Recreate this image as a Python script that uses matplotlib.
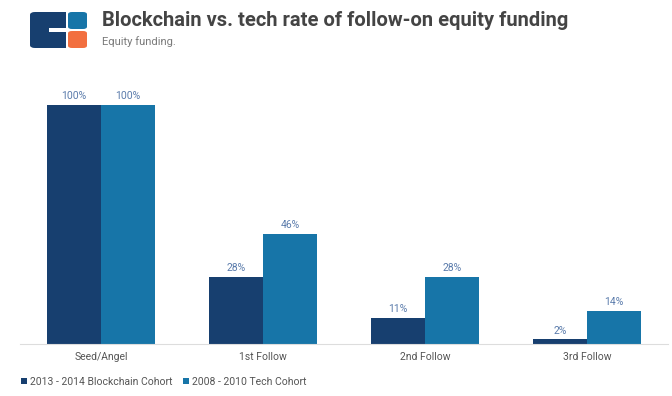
import matplotlib
matplotlib.use("Agg")
import matplotlib.pyplot as plt
from matplotlib.patches import FancyBboxPatch, Rectangle
from matplotlib import font_manager
import numpy as np

categories = ["Seed/Angel", "1st Follow", "2nd Follow", "3rd Follow"]
blockchain = [100, 28, 11, 2]
tech = [100, 46, 28, 14]
series_names = ["2013 - 2014 Blockchain Cohort", "2008 - 2010 Tech Cohort"]

dark = "#173f6f"
light = "#1775a8"
W, H = 672, 396

fig = plt.figure(figsize=(6.72, 3.96), dpi=100)
ax = fig.add_axes([20 / W, 1 - 344 / H, 648 / W, 239 / H])

x = np.arange(len(categories))
bw = 0.335
b1 = ax.bar(x - bw / 2, blockchain, bw, color=dark, label=series_names[0])
b2 = ax.bar(x + bw / 2, tech, bw, color=light, label=series_names[1])
for bars in (b1, b2):
    for r in bars:
        ax.text(r.get_x() + r.get_width() / 2, r.get_height() + 1.5, f"{r.get_height():.0f}%",
                ha="center", va="bottom", fontsize=7.5, color="#5a7bab",
                family="Roboto", clip_on=False)

ax.set_xlim(-0.5, 3.5)
ax.set_ylim(0, 100)
ax.set_yticks([])
ax.set_xticks(x)
ax.set_xticklabels(categories, fontsize=7.5, color="#555555", family="Roboto")
ax.tick_params(axis="x", length=0, pad=6)
for s in ["top", "right", "left"]:
    ax.spines[s].set_visible(False)
ax.spines["bottom"].set_color("#dddddd")
ax.spines["bottom"].set_linewidth(0.8)

fig.legend(handles=[b1, b2], labels=series_names, loc="center left",
           bbox_to_anchor=(12 / W, 1 - 382 / H), ncol=2, frameon=False,
           handlelength=0.55, handleheight=0.55, handletextpad=0.3, columnspacing=1.0,
           prop={"family": "Roboto", "size": 7.5}, labelcolor="#555555")

# title, sized so it ends where the reference's does
title = fig.text(102 / W, 1 - 21 / H, "Blockchain vs. tech rate of follow-on equity funding",
                 family="Roboto", fontweight="bold", fontsize=14, color="#444444",
                 va="center", ha="left")
sub = fig.text(102 / W, 1 - 42 / H, "Equity funding.", fontsize=8.5, color="#7a7a7a",
               va="center", ha="left", family="Roboto")
rend = fig.canvas.get_renderer()
for t, target in ((title, 468), (sub, 74)):
    w = t.get_window_extent(rend).width
    t.set_fontsize(t.get_fontsize() * target / w)

# logo
def fx(px):
    return px / W

def fy(py):
    return 1 - py / H

def box(x0, y0, x1, y1, color, r=3):
    p = FancyBboxPatch((fx(x0), fy(y1)), fx(x1 - x0), (y1 - y0) / H,
                       boxstyle=f"round,pad=0,rounding_size={r / W}",
                       transform=fig.transFigure, color=color, lw=0)
    fig.patches.append(p)

box(30, 12, 66, 48, dark, 5)
box(68, 12, 87, 29, light, 4)
box(68, 31, 87, 48, "#f26f3f", 4)
fig.patches.append(Rectangle((fx(60), fy(48)), fx(8), 36 / H,
                             transform=fig.transFigure, color=dark, lw=0))
fig.patches.append(Rectangle((fx(49), fy(32)), fx(19), 3.5 / H,
                             transform=fig.transFigure, color="white", lw=0))
fig.patches.append(Rectangle((fx(66), fy(48)), fx(2), 36 / H,
                             transform=fig.transFigure, color="white", lw=0))

fig.savefig("out.png", dpi=100)
